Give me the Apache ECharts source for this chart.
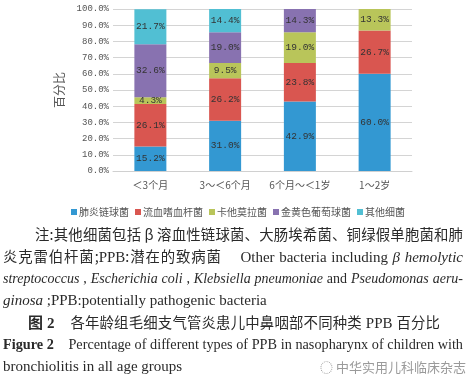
<!DOCTYPE html>
<html><head><meta charset="utf-8">
<script src="https://cdn.jsdelivr.net/npm/echarts@6/dist/echarts.min.js"></script>
<style>
html,body{margin:0;padding:0;background:#fff;width:471px;height:382px;overflow:hidden;}
#chart{position:absolute;left:0;top:0;width:471px;height:225px;}
.ln{position:absolute;left:3px;width:460px;font-family:"Liberation Serif","Noto Sans CJK SC",serif;font-size:15px;color:#2a2a2a;line-height:20px;white-space:nowrap;text-align:justify;text-align-last:justify;}
.ln.last{text-align:left;text-align-last:left;}
.ln i{font-style:italic;}
.cj{font-family:"Noto Sans CJK SC",sans-serif;font-size:0.96em;}
.wm{position:absolute;left:320px;top:357px;font-family:"Noto Sans CJK SC",sans-serif;font-size:13px;color:#9a9a9a;}
</style></head>
<body>
<div id="chart"></div>
<div class="ln" style="top:224px;left:35px;width:428px;"><span class="cj">注:其他细菌包括 β 溶血性链球菌、大肠埃希菌、铜绿假单胞菌和肺</span></div>
<div class="ln" style="top:246px;"><span class="cj">炎克雷伯杆菌;</span>PPB<span class="cj">:潜在的致病菌</span>&nbsp;&nbsp;&nbsp;&nbsp;Other bacteria including <i>β hemolytic</i></div>
<div class="ln" style="top:269px;"><i>streptococcus</i> , <i>Escherichia coli</i> , <i>Klebsiella pneumoniae</i> and <i>Pseudomonas aeru-</i></div>
<div class="ln last" style="top:290px;"><i>ginosa</i> ;PPB:potentially pathogenic bacteria</div>
<div class="ln" style="top:312px;left:28px;width:412px;"><b>图 2</b>&nbsp;&nbsp;&nbsp;&nbsp;<span class="cj">各年龄组毛细支气管炎患儿中鼻咽部不同种类</span> PPB <span class="cj">百分比</span></div>
<div class="ln" style="top:334px;"><b>Figure 2</b>&nbsp;&nbsp;&nbsp;&nbsp;Percentage of different types of PPB in nasopharynx of children with</div>
<div class="ln last" style="top:356px;">bronchiolitis in all age groups</div>
<div class="wm">◌ 中华实用儿科临床杂志</div>
<script>
var categories = ['＜3个月', '3～＜6个月', '6个月～＜1岁', '1～2岁'];
var seriesNames = ['肺炎链球菌', '流血嗜血杆菌', '卡他莫拉菌', '金黄色葡萄球菌', '其他细菌'];
var pneumococcus = [15.2, 31.0, 42.9, 60.0];
var haemophilus = [26.1, 26.2, 23.8, 26.7];
var moraxella = [4.3, 9.5, 19.0, 13.3];
var staphylococcus = [32.6, 19.0, 14.3, null];
var otherBacteria = [21.7, 14.4, null, null];
var yTicks = [0, 10, 20, 30, 40, 50, 60, 70, 80, 90, 100];

// fit caption lines into their width
Array.prototype.forEach.call(document.querySelectorAll('.ln'), function (el) {
  var fs = 15;
  el.style.textAlignLast = 'left';
  var w = el.clientWidth;
  while (el.scrollWidth > w && fs > 10) { fs -= 0.25; el.style.fontSize = fs + 'px'; }
  el.style.removeProperty('text-align-last');
});

var values = [pneumococcus, haemophilus, moraxella, staphylococcus, otherBacteria];
var colors = ['#3398d2', '#d95650', '#b9c55a', '#8872b0', '#51bfd3'];
var mono = '"Liberation Mono","DejaVu Sans Mono",monospace';

var chart = echarts.init(document.getElementById('chart'));
chart.setOption({
  animation: false,
  grid: {left: 113, top: 9, width: 299, height: 162},
  legend: {
    data: seriesNames, top: 202, left: 66, itemWidth: 6, itemHeight: 6, itemGap: 6,
    icon: 'rect',
    textStyle: {fontSize: 10, color: '#555', fontFamily: '"Noto Sans CJK SC"', padding: [0, 0, 0, -3]}
  },
  xAxis: {
    type: 'category', data: categories,
    axisLine: {lineStyle: {color: '#d0d0d0'}}, axisTick: {show: false},
    axisLabel: {color: '#555', fontSize: 10, margin: 9, interval: 0, fontFamily: '"Noto Sans CJK SC"'}
  },
  yAxis: {
    type: 'value', min: yTicks[0], max: yTicks[yTicks.length - 1], interval: 10,
    name: '百分比', nameLocation: 'middle', nameGap: 37, nameRotate: 90,
    nameTextStyle: {fontSize: 12, color: '#555', fontFamily: '"Noto Sans CJK SC"'},
    axisLine: {show: false}, axisTick: {show: false},
    splitLine: {lineStyle: {color: '#d4d4d4'}},
    axisLabel: {color: '#555', fontSize: 9, margin: 4, fontFamily: mono,
      formatter: function (v) { return v.toFixed(1) + '%'; }}
  },
  series: seriesNames.map(function (n, i) {
    return {
      name: n, type: 'bar', stack: 'all', barWidth: 32,
      data: values[i], itemStyle: {color: colors[i]},
      label: {show: true, position: 'inside', color: '#333', fontSize: 9.5, fontFamily: mono,
        formatter: function (p) { return p.value == null ? '' : p.value.toFixed(1) + '%'; }}
    };
  })
});
</script>
</body></html>
